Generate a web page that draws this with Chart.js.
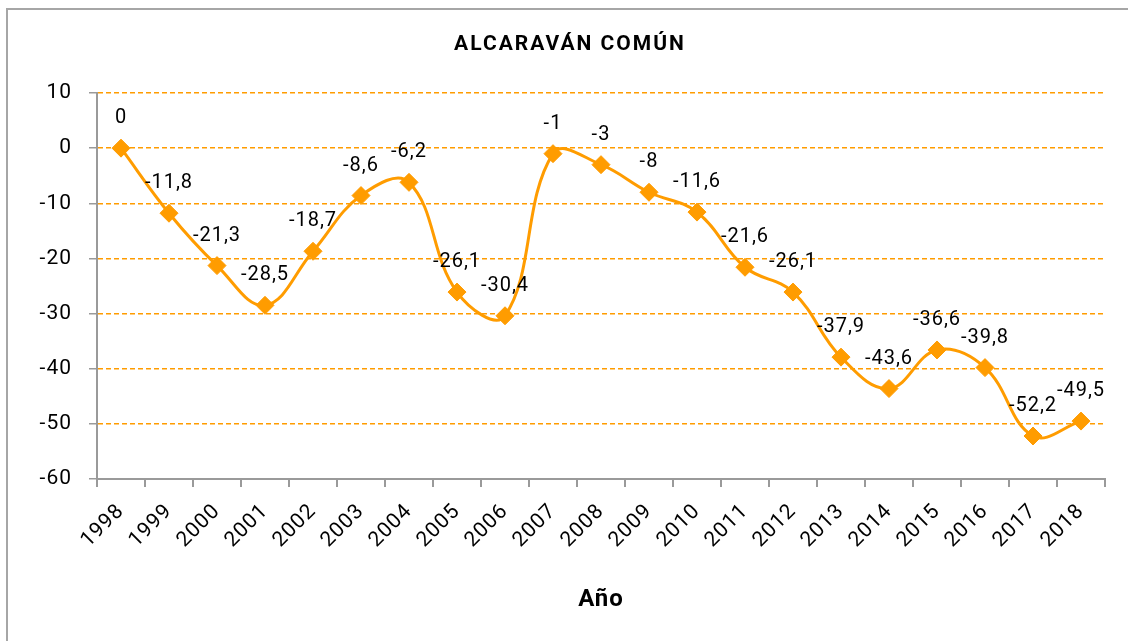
<!DOCTYPE html>
<html>
<head>
<meta charset="utf-8">
<script src="https://cdn.jsdelivr.net/npm/chart.js@4"></script>
<style>
  body { margin: 0; background: #fff; }
  #wrap { width: 1128px; height: 641px; position: relative; }
</style>
</head>
<body>
<div id="wrap"><canvas id="chart" width="1128" height="641"></canvas></div>
<script>
// Chart data
const years = ['1998', '1999', '2000', '2001', '2002', '2003', '2004', '2005', '2006', '2007',
  '2008', '2009', '2010', '2011', '2012', '2013', '2014', '2015', '2016', '2017', '2018'];
const values = [0, -11.8, -21.3, -28.5, -18.7, -8.6, -6.2, -26.1, -30.4, -1,
  -3, -8, -11.6, -21.6, -26.1, -37.9, -43.6, -36.6, -39.8, -52.2, -49.5];
const yTicks = [10, 0, -10, -20, -30, -40, -50, -60];
const chartTitle = 'ALCARAVÁN COMÚN';
const xTitle = 'Año';

const orange = '#FF9C00';
const axisGray = '#9A9A9A';
const fontFamily = 'Roboto, "DejaVu Sans", sans-serif';

// Frame, title and a little letter spacing for the DIN-like look
const framePlugin = {
  id: 'frame',
  beforeDraw(chart) {
    const ctx = chart.ctx;
    ctx.save();
    ctx.strokeStyle = '#A6A6A6';
    ctx.lineWidth = 2;
    ctx.beginPath();
    ctx.moveTo(7, 641);
    ctx.lineTo(7, 9);
    ctx.lineTo(1128, 9);
    ctx.stroke();
    ctx.fillStyle = '#000';
    ctx.font = 'bold 21px ' + fontFamily;
    ctx.textAlign = 'center';
    ctx.textBaseline = 'middle';
    ctx.letterSpacing = '2px';
    ctx.fillText(chartTitle, 570, 45);
    ctx.restore();
    ctx.letterSpacing = '1px';
  }
};

// Value labels above each point
const labelPlugin = {
  id: 'valueLabels',
  afterDatasetsDraw(chart) {
    const ctx = chart.ctx;
    const meta = chart.getDatasetMeta(0);
    ctx.save();
    ctx.fillStyle = '#000';
    ctx.font = '20px ' + fontFamily;
    ctx.textAlign = 'center';
    ctx.textBaseline = 'middle';
    meta.data.forEach((pt, i) => {
      const txt = String(values[i]).replace('.', ',');
      ctx.fillText(txt, pt.x, pt.y - 30);
    });
    ctx.restore();
  }
};

new Chart(document.getElementById('chart'), {
  type: 'line',
  data: {
    labels: years,
    datasets: [{
      data: values,
      borderColor: orange,
      backgroundColor: orange,
      borderWidth: 3,
      tension: 0.4,
      pointStyle: 'rectRot',
      pointRadius: 9,
      pointBorderWidth: 1,
      pointBorderColor: orange,
      pointBackgroundColor: orange,
      fill: false
    }]
  },
  options: {
    responsive: false,
    animation: false,
    layout: { padding: { top: 93, right: 23, left: 0, bottom: 0 } },
    plugins: {
      legend: { display: false },
      tooltip: { enabled: false },
      title: { display: false }
    },
    scales: {
      x: {
        offset: true,
        afterFit(scale) { scale.height = 162; },
        grid: {
          offset: true,
          drawOnChartArea: false,
          drawTicks: true,
          tickLength: 8,
          color: axisGray,
          lineWidth: 2
        },
        border: { color: axisGray, width: 2 },
        ticks: {
          minRotation: 45,
          maxRotation: 45,
          autoSkip: false,
          padding: 12,
          color: '#000',
          font: { family: fontFamily, size: 21 }
        },
        title: {
          display: true,
          text: xTitle,
          color: '#000',
          font: { family: fontFamily, size: 24, weight: 'bold' },
          padding: { top: 0, bottom: 27 }
        }
      },
      y: {
        min: -60,
        max: 10,
        afterFit(scale) { scale.width = 97; },
        afterBuildTicks(scale) { scale.ticks = yTicks.map(v => ({ value: v })); },
        grid: {
          color: orange,
          lineWidth: 1.5,
          tickColor: axisGray,
          tickBorderDash: [],
          tickLength: 8
        },
        border: { color: axisGray, width: 2, dash: [5, 3] },
        ticks: {
          padding: 17,
          color: '#000',
          font: { family: fontFamily, size: 21 }
        }
      }
    }
  },
  plugins: [framePlugin, labelPlugin]
});
</script>
</body>
</html>
